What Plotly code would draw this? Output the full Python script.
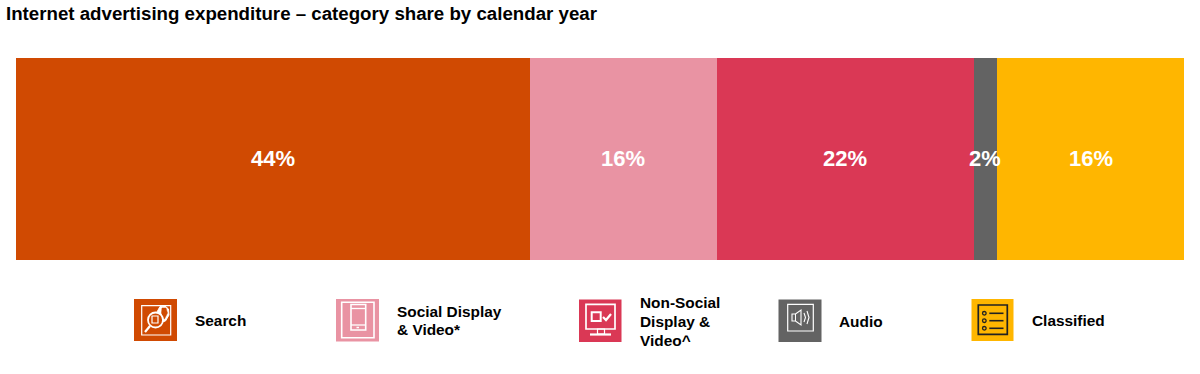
import plotly.graph_objects as go

W, H = 1200, 374
categories = ["Search", "Social Display<br>& Video*", "Non-Social<br>Display &<br>Video^", "Audio", "Classified"]
shares = [44, 16, 22, 2, 16]
colors = ["#D04A02", "#E993A3", "#DA3855", "#636363", "#FFB600"]
title = "Internet advertising expenditure – category share by calendar year"
period = "Calendar year"
FONT = "Liberation Sans, Arial, sans-serif"

fig = go.Figure()
for name, v, c in zip(categories, shares, colors):
    fig.add_trace(go.Bar(
        x=[v], y=[period], orientation="h", name=name.replace("<br>", " "),
        marker=dict(color=c, line=dict(width=0)),
        hoverinfo="name+x",
    ))


def px(x): return x / W
def py(y): return 1 - y / H


shapes = []


def rect(x0, y0, x1, y1, fill=None, line=None, lw=1.3):
    shapes.append(dict(type="rect", xref="paper", yref="paper",
                       x0=px(x0), x1=px(x1), y0=py(y0), y1=py(y1),
                       fillcolor=fill or "rgba(0,0,0,0)",
                       line=dict(color=line or "rgba(0,0,0,0)", width=lw if line else 0)))


def circ(cx, cy, r, fill=None, line=None, lw=1.3):
    shapes.append(dict(type="circle", xref="paper", yref="paper",
                       x0=px(cx - r), x1=px(cx + r), y0=py(cy - r), y1=py(cy + r),
                       fillcolor=fill or "rgba(0,0,0,0)",
                       line=dict(color=line or "rgba(0,0,0,0)", width=lw if line else 0)))


def seg(x0, y0, x1, y1, line="white", lw=1.3):
    shapes.append(dict(type="line", xref="paper", yref="paper",
                       x0=px(x0), x1=px(x1), y0=py(y0), y1=py(y1),
                       line=dict(color=line, width=lw)))


def poly(pts, fill=None, line="white", lw=1.3, close=True):
    d = "M " + " L ".join(f"{px(a):.5f},{py(b):.5f}" for a, b in pts) + (" Z" if close else "")
    shapes.append(dict(type="path", xref="paper", yref="paper", path=d,
                       fillcolor=fill or "rgba(0,0,0,0)", line=dict(color=line, width=lw)))


# icon tiles
tiles = [(134, 299, 177, 341), (336, 299, 379, 341.5), (579, 299.5, 621.5, 342),
         (778.5, 299.5, 821.5, 342), (971.5, 299, 1013.5, 341)]
for t, c in zip(tiles, colors):
    rect(*t, fill=c)

# Search icon
rect(141.7, 305.7, 170.7, 335, line="white", lw=1.2)
poly([(160, 306.5), (165, 306), (168.5, 309), (169, 315), (165.5, 321), (162, 322),
      (160, 316), (157, 312)], fill="white", line="white", lw=1)
poly([(162, 308), (166, 308), (167.5, 313), (164.5, 319), (163, 318), (161.5, 313)],
     fill="#D04A02", line="#D04A02", lw=0.5)
circ(155.5, 320, 7.5, fill="#D04A02", line="white", lw=1.8)
rect(152, 316, 158, 323, line="white", lw=1.2)
seg(150, 326, 145, 332, lw=2.2)

# Social icon
rect(341.7, 302.3, 374, 337.7, line="white", lw=1.6)
rect(351, 304.5, 365.7, 330, line="white", lw=1.6)
seg(351, 308.5, 365.7, 308.5)
seg(351, 325, 365.7, 325)
seg(356.5, 327.5, 359, 327.5, lw=1.5)

# Non-social icon
rect(586, 304.3, 615, 329, line="white", lw=1.7)
rect(591.7, 312.3, 600.7, 321, line="white", lw=2)
poly([(603, 317), (606, 320), (611, 314)], lw=2.2, close=False)
rect(597.5, 329, 604.5, 334, line="white", lw=1.2)
seg(590, 334.5, 611, 334.5, lw=2.2)

# Audio icon
rect(787.7, 304.3, 813.3, 331, line="white", lw=1.2)
poly([(792, 314), (795.5, 314), (801, 310), (801, 325), (795.5, 321), (792, 321)], lw=1.1)
seg(795.5, 314, 795.5, 321, lw=1)
poly([(804, 313), (805.5, 317.5), (804, 322)], lw=1.1, close=False)
poly([(807, 311), (809, 317.5), (807, 324)], lw=1.1, close=False)

# Classified icon
K = "#222222"
rect(978.3, 305, 1007.3, 334.3, line=K, lw=1.7)
for y in (313.3, 320.7, 328.3):
    circ(984.3, y, 1.8, line=K, lw=1.3)
    seg(989.3, y, 1003.5, y, line=K, lw=1.6)

label_x = [194, 396, 639, 838, 1031]
label_y = [320, 320.6, 321.5, 321, 320]
LINE_STEP = 18.6
annotations = []
for name, x, y in zip(categories, label_x, label_y):
    lines = name.split("<br>")
    for i, ln in enumerate(lines):
        ly = y + (i - (len(lines) - 1) / 2) * LINE_STEP
        annotations.append(dict(text=ln, xref="paper", yref="paper", x=px(x), y=py(ly),
                                xanchor="left", yanchor="middle", align="left", showarrow=False,
                                borderpad=0,
                                font=dict(family=FONT, size=15.4, color="black", weight="bold")))
annotations.append(dict(text=title, xref="paper", yref="paper", x=px(4.5), y=py(13), xanchor="left",
                        yanchor="middle", showarrow=False, borderpad=0,
                        font=dict(family=FONT, size=18.7, color="black", weight="bold")))

# percentage labels sit at each segment's centre, taken from the data
start = 0
for v in shares:
    annotations.append(dict(text=f"{v}%", xref="x", yref="y", x=start + v / 2, y=period,
                            xanchor="center", yanchor="middle", showarrow=False, borderpad=0,
                            yshift=1,
                            font=dict(family=FONT, size=22, color="white", weight="bold")))
    start += v

fig.update_layout(
    width=W, height=H, margin=dict(l=0, r=0, t=0, b=0, pad=0),
    barmode="stack", bargap=0, showlegend=False,
    plot_bgcolor="white", paper_bgcolor="white",
    xaxis=dict(domain=[16 / W, 1184 / W], range=[0, 100], visible=False),
    yaxis=dict(domain=[py(260), py(58)], type="category", range=[-0.5, 0.5], visible=False),
    shapes=shapes, annotations=annotations,
)
fig.write_html("out.html", post_script="document.body.style.margin='0';",
               config={"displayModeBar": False})
